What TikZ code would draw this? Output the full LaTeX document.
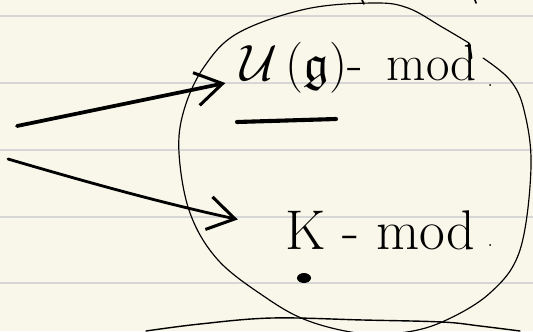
\documentclass[tikz,border=0pt]{standalone}
\usepackage{amsmath,amssymb}
\usepackage{graphicx}
\usepackage{tikz}
\usetikzlibrary{arrows.meta,positioning}
\definecolor{paper}{RGB}{249,247,233}
\definecolor{ruling}{RGB}{214,214,214}

\begin{document}
\begin{tikzpicture}[
  x=0.03cm, y=-0.03cm,
  handtext/.style={inner sep=0pt, font=\Huge},
  rule/.style={ruling, line width=1.6pt},
  pen/.style={line width=1pt, line cap=round, line join=round},
  arrow/.style={line cap=round, -{Straight Barb[length=0.8cm, width=1.0cm, line width=2.6pt]}}
]
\useasboundingbox (0,0) rectangle (533,331);
\fill[paper] (0,0) rectangle (533,331);
\foreach \y in {16,83,150,217,283}
  \draw[rule] (0,\y) -- (533,\y);

% the two module categories
\node[handtext, anchor=base west] (ug) at (240,80) {\scalebox{1.75}{$\mathcal{U}\,(\mathfrak{g})$-\ \,mod}};
\node[handtext, anchor=base west] (km) at (285,249) {\scalebox{1.92}{K - mod}};

% arrows coming in from the left
\coordinate (src1) at (17,126);
\coordinate (src2) at (8,159);
\draw[arrow, line width=3.2pt, shorten >=0.45cm] (src1) -- (ug.base west);
\draw[arrow, line width=2.4pt, shorten >=1.45cm] (src2) to[bend right=2] (km.west);

% underline and dots
\draw[line width=3.5pt, line cap=round] (237,122) -- (336,119);
\fill (304,278) ellipse (7 and 5);
\fill (490,85) circle (1);
\fill (490,245) circle (1);

% the loop round both
\draw[pen] plot[smooth, tension=0.6] coordinates {
  (469,43) (442,27) (408,8) (374,3) (306,9) (238,33) (204,67) (184,110)
  (179,153) (190,213) (218,260) (265,297) (306,320) (357,333) (400,333)
  (442,322) (490,293) (520,250) (531,167) (524,110) (510,80) (483,58)};
\draw[line width=2.4pt, line cap=round] (469,44) -- (471,58);

% curve along the bottom
\draw[pen, line width=1.2pt] plot[smooth, tension=0.6] coordinates {
  (146,331) (200,324) (272,318) (363,320) (442,322) (480,326) (520,331)};

% bits of writing cut off at the top
\draw[line width=1.4pt, line cap=round] (362,0) -- (364,4);
\draw[line width=1.4pt, line cap=round] (475,0) -- (476,3);
\end{tikzpicture}
\end{document}
